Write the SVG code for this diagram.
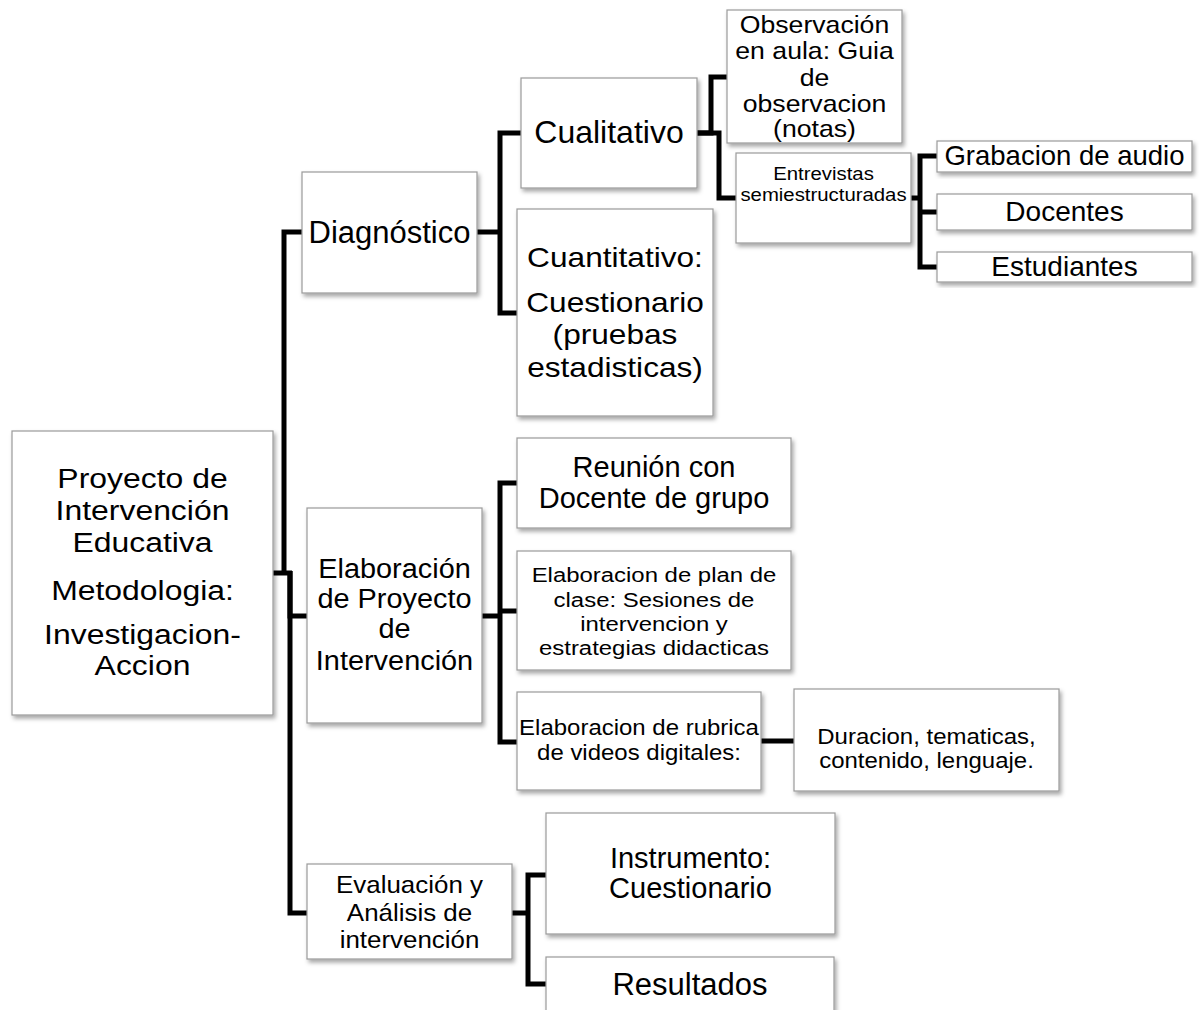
<svg xmlns="http://www.w3.org/2000/svg" width="1199" height="1010" viewBox="0 0 1199 1010">
<defs>
<filter id="sh" x="-10%" y="-10%" width="130%" height="130%">
<feDropShadow dx="2" dy="3" stdDeviation="2" flood-color="#000" flood-opacity="0.35"/>
</filter>
</defs>
<style>
.box{fill:#fff;stroke:#9a9a9a;stroke-width:1.2;filter:url(#sh)}
text{font-family:"Liberation Sans",Arial,sans-serif;fill:#000;text-anchor:middle}
.c{fill:none;stroke:#000;stroke-width:5;stroke-linejoin:miter;stroke-linecap:butt}
</style>
<rect width="1199" height="1010" fill="#fff"/>
<g id="connectors">
<path class="c" d="M302,232 H284 V575"/>
<path class="c" d="M273,573 H292"/>
<path class="c" d="M307,616 H290 V571"/>
<path class="c" d="M307,913 H290 V571"/>
<path class="c" d="M477,232 H500"/>
<path class="c" d="M521,133 H500 V313 H517"/>
<path class="c" d="M697,133 H711 V77 H727"/>
<path class="c" d="M697,133 H719 V198 H736"/>
<path class="c" d="M911,198 H920"/>
<path class="c" d="M937,156 H920 V267 H937"/>
<path class="c" d="M920,212 H937"/>
<path class="c" d="M482,616 H500"/>
<path class="c" d="M517,483 H500 V742 H517"/>
<path class="c" d="M500,611 H517"/>
<path class="c" d="M761,741 H794"/>
<path class="c" d="M512,913 H528"/>
<path class="c" d="M546,875 H528 V984 H546"/>
</g>
<g id="root">
<rect class="box" x="12" y="431" width="261" height="284"/>
<text font-size="28" transform="translate(142.5,0) scale(1.14,1)"><tspan x="0" y="488">Proyecto de</tspan><tspan x="0" y="520">Intervención</tspan><tspan x="0" y="552">Educativa</tspan><tspan x="0" y="600">Metodologia:</tspan><tspan x="0" y="644">Investigacion-</tspan><tspan x="0" y="675">Accion</tspan></text>
</g>
<g id="diagnostico">
<rect class="box" x="302" y="172" width="175" height="121"/>
<text font-size="31" x="389.5" y="243">Diagnóstico</text>
</g>
<g id="cualitativo">
<rect class="box" x="521" y="78" width="176" height="110"/>
<text font-size="32" x="609" y="143">Cualitativo</text>
</g>
<g id="observacion">
<rect class="box" x="727" y="10" width="175" height="133"/>
<text font-size="24" transform="translate(814.5,0) scale(1.11,1)"><tspan x="0" y="33">Observación</tspan><tspan x="0" y="59">en aula: Guia</tspan><tspan x="0" y="86">de</tspan><tspan x="0" y="112">observacion</tspan><tspan x="0" y="137">(notas)</tspan></text>
</g>
<g id="entrevistas">
<rect class="box" x="736" y="153" width="175" height="90"/>
<text font-size="18.5" transform="translate(823.5,0) scale(1.1,1)"><tspan x="0" y="180">Entrevistas</tspan><tspan x="0" y="201">semiestructuradas</tspan></text>
</g>
<g id="grabacion">
<rect class="box" x="937" y="141" width="255" height="31"/>
<text font-size="27.5" x="1064.5" y="165">Grabacion de audio</text>
</g>
<g id="docentes">
<rect class="box" x="937" y="194" width="255" height="36"/>
<text font-size="28" x="1064.5" y="221">Docentes</text>
</g>
<g id="estudiantes">
<rect class="box" x="937" y="252" width="255" height="30"/>
<text font-size="28" x="1064.5" y="276">Estudiantes</text>
</g>
<g id="cuantitativo">
<rect class="box" x="517" y="209" width="196" height="207"/>
<text font-size="28" transform="translate(615,0) scale(1.13,1)"><tspan x="0" y="267">Cuantitativo:</tspan><tspan x="0" y="312">Cuestionario</tspan><tspan x="0" y="344">(pruebas</tspan><tspan x="0" y="377">estadisticas)</tspan></text>
</g>
<g id="elaboracion">
<rect class="box" x="307" y="508" width="175" height="215"/>
<text font-size="27" transform="translate(394.5,0) scale(1.07,1)"><tspan x="0" y="578">Elaboración</tspan><tspan x="0" y="608">de Proyecto</tspan><tspan x="0" y="638">de</tspan><tspan x="0" y="670">Intervención</tspan></text>
</g>
<g id="reunion">
<rect class="box" x="517" y="438" width="274" height="90"/>
<text font-size="29"><tspan x="654" y="477">Reunión con</tspan><tspan x="654" y="508">Docente de grupo</tspan></text>
</g>
<g id="plan">
<rect class="box" x="517" y="551" width="274" height="119"/>
<text font-size="21" transform="translate(654,0) scale(1.14,1)"><tspan x="0" y="582">Elaboracion de plan de</tspan><tspan x="0" y="607">clase: Sesiones de</tspan><tspan x="0" y="631">intervencion y</tspan><tspan x="0" y="655">estrategias didacticas</tspan></text>
</g>
<g id="rubrica">
<rect class="box" x="517" y="692" width="244" height="98"/>
<text font-size="22" transform="translate(639,0) scale(1.09,1)"><tspan x="0" y="735">Elaboracion de rubrica</tspan><tspan x="0" y="760">de videos digitales:</tspan></text>
</g>
<g id="duracion">
<rect class="box" x="794" y="689" width="265" height="102"/>
<text font-size="22" transform="translate(926.5,0) scale(1.09,1)"><tspan x="0" y="744">Duracion, tematicas,</tspan><tspan x="0" y="768">contenido, lenguaje.</tspan></text>
</g>
<g id="evaluacion">
<rect class="box" x="307" y="864" width="205" height="95"/>
<text font-size="24" transform="translate(409.5,0) scale(1.08,1)"><tspan x="0" y="893">Evaluación y</tspan><tspan x="0" y="921">Análisis de</tspan><tspan x="0" y="948">intervención</tspan></text>
</g>
<g id="instrumento">
<rect class="box" x="546" y="813" width="289" height="121"/>
<text font-size="29"><tspan x="690.5" y="868">Instrumento:</tspan><tspan x="690.5" y="898">Cuestionario</tspan></text>
</g>
<g id="resultados">
<rect class="box" x="546" y="957" width="288" height="62"/>
<text font-size="31" x="690" y="995">Resultados</text>
</g>
</svg>
